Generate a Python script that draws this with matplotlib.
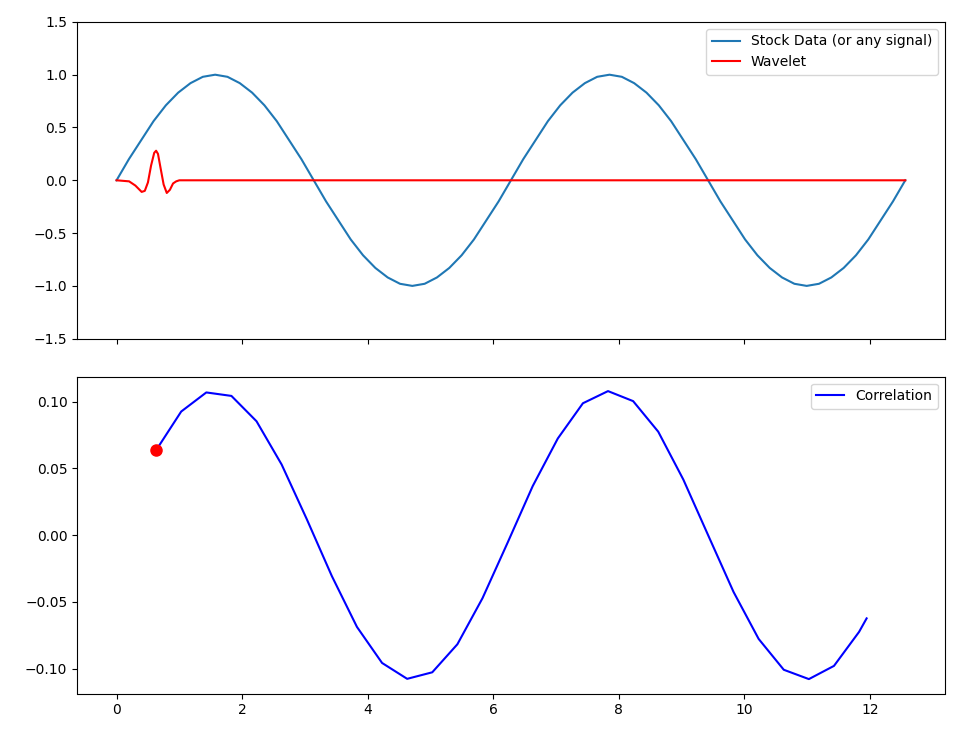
import numpy as np
import matplotlib
matplotlib.use("Agg")
import matplotlib.pyplot as plt

period = [0, .20, .38, .56, .71, .83, .92, .98, 1, .98, .92, .83, .71, .56, .38, .20,
          0, -.20, -.38, -.56, -.71, -.83, -.92, -.98, -1, -.98, -.92, -.83, -.71, -.56, -.38, -.20]
signal_y = period + period + [0]
signal_x = np.linspace(0, 12.566, len(signal_y))

wave_x = [0, 0.2, 0.3, 0.4, 0.45, 0.5, 0.55, 0.6, 0.63, 0.66, 0.7, 0.75, 0.8, 0.85, 0.9, 0.95, 1.0, 12.566]
wave_y = [0, -0.01, -0.05, -0.11, -0.10, -0.02, 0.14, 0.26, 0.28, 0.25, 0.12, -0.04, -0.12, -0.09, -0.03, -0.01, 0, 0]

corr_x = [0.63, 1.03, 1.43, 1.83, 2.23, 2.63, 3.03, 3.43, 3.83, 4.23, 4.63, 5.03, 5.43, 5.83, 6.23,
          6.63, 7.03, 7.43, 7.83, 8.23, 8.63, 9.03, 9.43, 9.83, 10.23, 10.63, 11.03, 11.43, 11.83, 11.95]
corr_y = [.0636, .0926, .1069, .1043, .0853, .0529, .0120, -.0307, -.0688, -.0958, -.1077, -.1028,
          -.0818, -.0473, -.0057, .0367, .0724, .0988, .1079, .1004, .0775, .0416, -.0006, -.0426,
          -.0778, -.1009, -.1079, -.0980, -.0725, -.0624]
marker_x, marker_y = 0.63, 0.0636

fig, (ax1, ax2) = plt.subplots(2, 1, sharex=True, figsize=(9.64, 7.3), dpi=100)
ax1.plot(signal_x, signal_y, color='#1f77b4', label='Stock Data (or any signal)')
ax1.plot(wave_x, wave_y, color='red', label='Wavelet')
ax1.set_ylim(-1.5, 1.5)
ax1.legend(loc='upper right')

ax2.plot(corr_x, corr_y, color='blue', label='Correlation')
ax2.plot([marker_x], [marker_y], 'o', color='red', markersize=8)
ax2.legend(loc='upper right')

fig.subplots_adjust(left=0.08, right=0.98, top=0.97, bottom=0.05, hspace=0.12)
fig.savefig("out.png")
